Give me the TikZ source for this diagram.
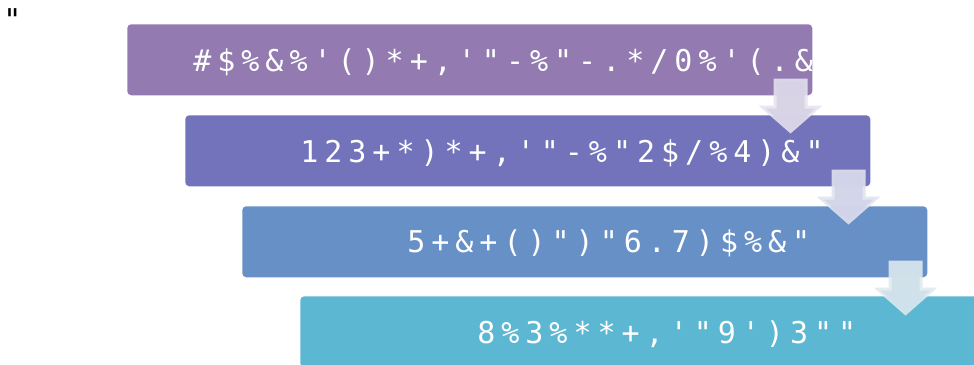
\documentclass[tikz,border=0pt]{standalone}
\usepackage{fontspec}
\usetikzlibrary{calc}
\newfontfamily\boxfont[LetterSpace=20]{DejaVu Sans Mono}
\definecolor{cA}{HTML}{937BB1}
\definecolor{cB}{HTML}{7273BA}
\definecolor{cC}{HTML}{6690C6}
\definecolor{cD}{HTML}{5CB8D2}
\definecolor{aAo}{HTML}{E6E3EF}
\definecolor{aAi}{HTML}{D7D2E5}
\definecolor{aBo}{HTML}{E2E3F0}
\definecolor{aBi}{HTML}{D1D3E8}
\definecolor{aCo}{HTML}{DFEAEF}
\definecolor{aCi}{HTML}{CFE1EA}
\begin{document}
\begin{tikzpicture}[x=0.75pt,y=-0.75pt,
  stagebox/.style={rectangle, rounded corners=3pt, minimum width=513.75pt,
    minimum height=53.25pt, inner sep=0pt, anchor=north west, draw=none},
  stagetext/.style={text=white, font=\fontsize{22.5}{27}\selectfont\boxfont,
    inner sep=0pt, anchor=base west},
  arrowouter/.style={fill opacity=0.88, draw=none},
  arrowinner/.style={fill opacity=0.9, draw=none}]
\useasboundingbox (0,0) rectangle (974,364);
\clip (0,0) rectangle (974,364);
% stray mark
\node[anchor=base west, inner sep=0pt, font=\fontsize{22.5}{27}\selectfont\boxfont] (q) at (3,30) {"};
% boxes
\node[stagebox, fill=cA] (b1) at (127,24) {};
\node[stagebox, fill=cB] (b2) at (185,115) {};
\node[stagebox, fill=cC] (b3) at (242,206) {};
\node[stagebox, fill=cD] (b4) at (300,296) {};
% texts
\node[stagetext] (t1) at (193,71) {\#\$\%\&\%'()*+,'"-\%"-.*/0\%'(.\&};
\node[stagetext] (t2) at (300,162) {123+*)*+,'"-\%"2\$/\%4)\&"};
\node[stagetext] (t3) at (407,252) {5+\&+()")"6.7)\$\%\&"};
\node[stagetext] (t4) at (477,343) {8\%3\%**+,'"9')3""};
% arrows
\newcommand\blockarrow[3]{%
  \begin{scope}[shift={($(#1.south east)+(-22,-17)$)}]
    \path[arrowouter, fill=#2] (-17,0) -- (17,0) -- (17,27) -- (32,27) -- (0,55) -- (-32,27) -- (-17,27) -- cycle;
    \path[arrowinner, fill=#3] (-14,3) -- (14,3) -- (14,30) -- (25,30) -- (0,51) -- (-25,30) -- (-14,30) -- cycle;
  \end{scope}}
\blockarrow{b1}{aAo}{aAi}
\blockarrow{b2}{aBo}{aBi}
\blockarrow{b3}{aCo}{aCi}
\end{tikzpicture}
\end{document}
